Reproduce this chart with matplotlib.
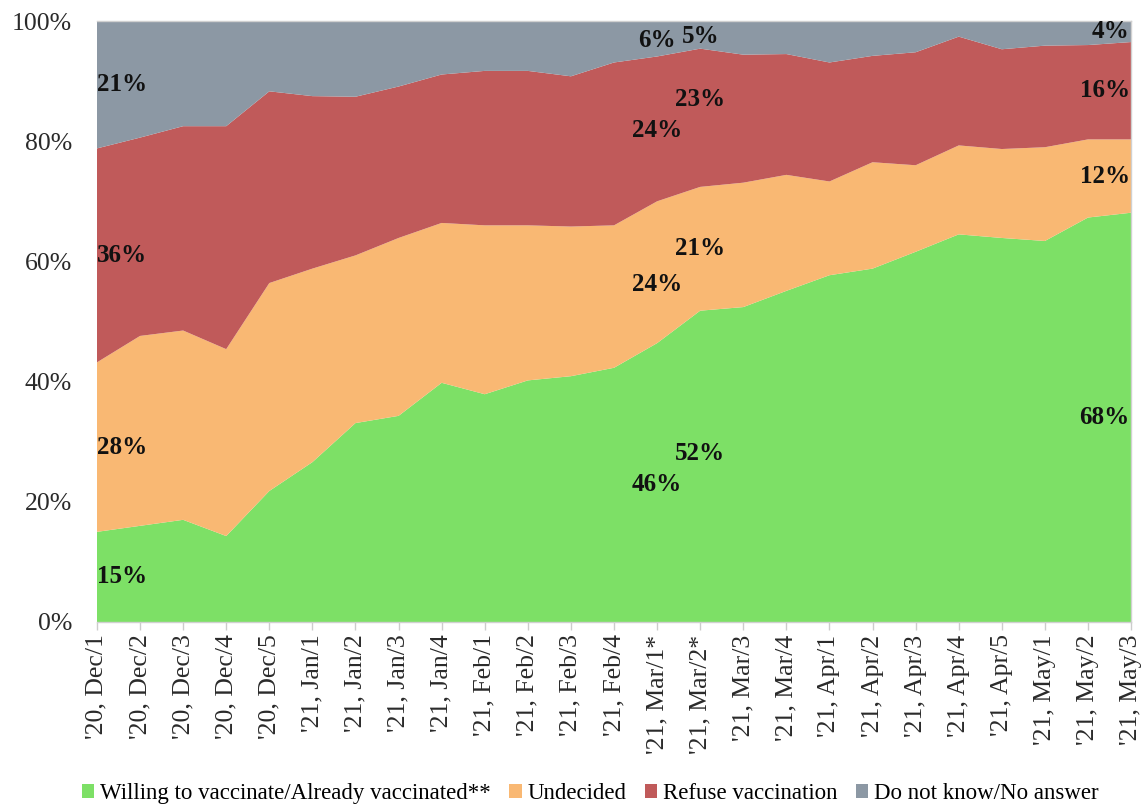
import matplotlib
matplotlib.use("Agg")
import matplotlib.pyplot as plt
import numpy as np
from matplotlib.patches import Patch

categories = ["'20, Dec/1", "'20, Dec/2", "'20, Dec/3", "'20, Dec/4", "'20, Dec/5",
              "'21, Jan/1", "'21, Jan/2", "'21, Jan/3", "'21, Jan/4",
              "'21, Feb/1", "'21, Feb/2", "'21, Feb/3", "'21, Feb/4",
              "'21, Mar/1*", "'21, Mar/2*", "'21, Mar/3", "'21, Mar/4",
              "'21, Apr/1", "'21, Apr/2", "'21, Apr/3", "'21, Apr/4", "'21, Apr/5",
              "'21, May/1", "'21, May/2", "'21, May/3"]

willing = [15.0, 16.0, 17.0, 14.3, 21.8, 26.6, 33.1, 34.3, 39.8, 37.9, 40.2, 40.9, 42.3,
           46.4, 51.8, 52.4, 55.1, 57.7, 58.8, 61.6, 64.5, 63.9, 63.4, 67.3, 68.1]
undecided = [28.2, 31.6, 31.5, 31.1, 34.6, 32.2, 27.9, 29.6, 26.6, 28.1, 25.8, 24.9, 23.7,
             23.6, 20.6, 20.7, 19.3, 15.6, 17.7, 14.4, 14.8, 14.8, 15.6, 13.0, 12.2]
refuse = [35.6, 33.0, 34.0, 37.1, 31.9, 28.7, 26.4, 25.2, 24.7, 25.7, 25.7, 25.0, 27.1,
          24.1, 23.0, 21.3, 20.1, 19.8, 17.7, 18.8, 18.1, 16.6, 16.9, 15.7, 16.2]
dont_know = [21.2, 19.4, 17.5, 17.5, 11.7, 12.5, 12.6, 10.9, 8.9, 8.3, 8.3, 9.2, 6.9,
             5.9, 4.6, 5.6, 5.5, 6.9, 5.8, 5.2, 2.6, 4.7, 4.1, 4.0, 3.5]

series_names = ["Willing to vaccinate/Already vaccinated**", "Undecided",
                "Refuse vaccination", "Do not know/No answer"]
colors = ["#7de066", "#f9b873", "#c05a5a", "#8c98a4"]

# labelled points: (index, label texts per series)
label_points = {0: ["15%", "28%", "36%", "21%"],
                13: ["46%", "24%", "24%", "6%"],
                14: ["52%", "21%", "23%", "5%"],
                24: ["68%", "12%", "16%", "4%"]}
# small vertical nudges of the label text (in axis % units), as in the original
label_nudge = {13: [-0.4, -2.0, -0.2, -0.3],
               14: [2.2, 0.0, 3.0, -0.3]}

serif = ["Liberation Serif", "DejaVu Serif"]

fig = plt.figure(figsize=(11.46, 8.08), dpi=100)
ax = fig.add_axes([0.0846, 0.2302, 0.9024, 0.7438])

x = np.arange(len(categories))
data = np.array([willing, undecided, refuse, dont_know])
ax.stackplot(x, data, colors=colors, linewidth=0)

ax.set_xlim(0, len(categories) - 1)
ax.set_ylim(0, 100)
ax.set_yticks([0, 20, 40, 60, 80, 100])
ax.set_yticklabels([f"{v}%" for v in [0, 20, 40, 60, 80, 100]], fontsize=18.5,
                   family=serif, color="#2a2a2a")
ax.tick_params(axis="y", length=0, pad=18)
ax.set_xticks(x)
ax.set_xticklabels(categories, rotation=90, fontsize=18.5, family=serif, color="#2a2a2a")
ax.tick_params(axis="x", length=6, color="#cccccc", width=1, direction="out", pad=3)

ax.spines["left"].set_visible(False)
for side in ["top", "right", "bottom"]:
    ax.spines[side].set_color("#d0d0d0")
    ax.spines[side].set_linewidth(1)

cum = np.cumsum(data, axis=0)
for idx, labels in label_points.items():
    nudges = label_nudge.get(idx, [0, 0, 0, 0])
    for s in range(4):
        bottom = cum[s - 1][idx] if s > 0 else 0
        mid = bottom + data[s][idx] / 2 + nudges[s]
        if idx == 0:
            ha = "left"
            xo = 0.0
        elif idx == len(categories) - 1:
            ha = "right"
            xo = -0.03
        else:
            ha = "center"
            xo = 0
        ax.text(idx + xo, mid, labels[s], ha=ha, va="center", fontsize=18,
                fontweight="bold", family=serif, color="#111111")

handles = [Patch(facecolor=c, edgecolor="none") for c in colors]
fig.legend(handles, series_names, loc="center", bbox_to_anchor=(0.515, 0.018),
           ncol=4, frameon=False, prop={"family": "Liberation Serif", "size": 16.5},
           handlelength=0.55, handleheight=0.55, handletextpad=0.25, columnspacing=0.8)

fig.savefig("out.png", dpi=100)
